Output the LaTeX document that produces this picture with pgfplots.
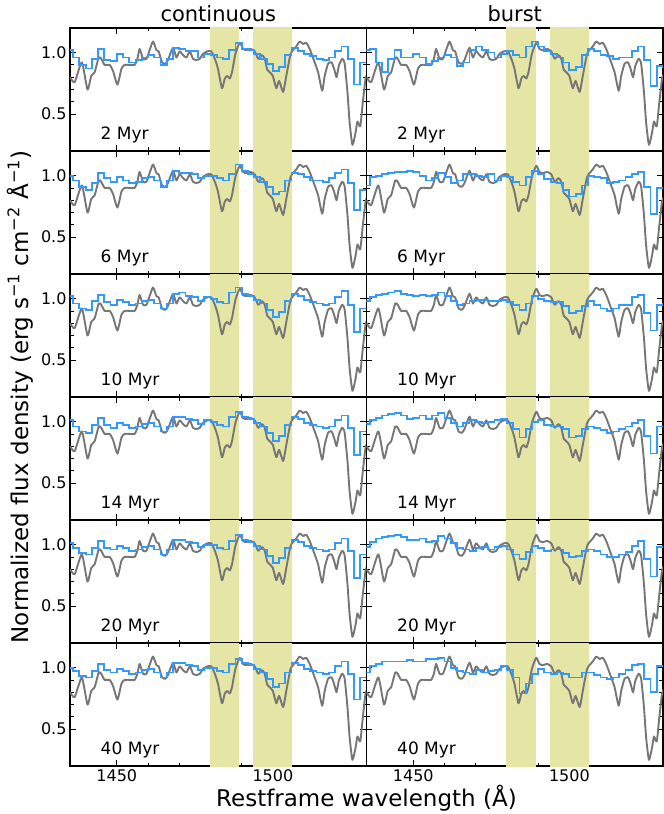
\documentclass[border=0pt]{standalone}
\usepackage{fontspec}
\setmainfont{DejaVu Sans}
\usepackage{pgfplots}
\usepackage{pgfplotstable}
\pgfplotsset{compat=1.18}
\usepgfplotslibrary{groupplots}

\definecolor{bandcol}{RGB}{229,229,165}
\definecolor{graycol}{RGB}{118,118,118}
\definecolor{bluecol}{RGB}{51,153,255}

\newcommand\tickfont{\fontsize{16}{16}\selectfont}
\newcommand\labfont{\fontsize{17}{17}\selectfont}
\newcommand\bigfont{\fontsize{21}{21}\selectfont}
\newcommand\axfont{\fontsize{23}{23}\selectfont}

\pgfplotstableread{
x y
1435.0 0.80
1436.5 0.76
1438.8 0.92
1440.6 0.70
1441.8 0.81
1442.9 0.84
1444.2 0.96
1445.0 0.95
1446.1 0.90
1447.7 0.90
1448.8 0.85
1450.2 0.74
1451.5 0.87
1452.5 0.90
1454.1 0.90
1455.7 0.90
1456.6 0.95
1457.3 1.03
1458.4 0.95
1459.5 0.95
1460.5 1.02
1461.6 1.09
1462.7 1.02
1463.4 1.01
1464.5 0.92
1465.6 0.91
1466.4 0.94
1468.0 1.04
1469.1 0.96
1470.1 1.01
1471.2 0.98
1472.3 0.96
1473.4 1.01
1474.4 0.95
1475.5 0.94
1476.6 0.95
1477.6 0.99
1479.0 1.01
1480.3 1.01
1481.4 0.95
1482.4 0.87
1483.7 0.71
1484.6 0.79
1485.4 0.81
1486.2 0.79
1486.9 0.84
1488.0 0.99
1489.4 1.08
1490.4 1.03
1491.5 1.02
1492.9 1.03
1494.2 1.01
1495.3 0.95
1496.5 0.98
1497.4 0.95
1498.2 0.86
1499.0 0.84
1500.0 0.81
1501.1 0.71
1502.0 0.77
1503.3 0.68
1504.3 0.81
1505.7 0.99
1507.5 1.05
1508.6 1.09
1509.7 1.07
1510.7 1.08
1511.8 1.03
1513.4 0.92
1514.5 0.84
1515.8 0.69
1516.6 0.81
1517.7 0.91
1518.8 0.92
1519.6 0.87
1520.4 0.80
1521.1 0.89
1522.2 0.95
1523.0 0.91
1523.9 0.68
1524.6 0.43
1525.5 0.25
1526.5 0.35
1527.1 0.44
1528.0 0.40
1528.8 0.59
1529.7 0.79
1530.2 0.82
}\graytab

% bin left edges (bins 2 A wide)
\pgfplotstableread{
x    c2   c6   c10  c14  c20  c40  b2   b6   b10  b14  b20  b40
1434 1.02 1.00 1.02 1.01 1.01 1.00 1.02 0.92 0.98 0.98 0.98 0.96
1436 0.96 0.96 0.96 0.96 0.97 0.97 1.03 0.99 1.01 1.01 1.02 1.01
1438 0.90 0.91 0.92 0.92 0.93 0.93 0.92 1.00 1.03 1.03 1.05 1.03
1440 0.87 0.88 0.91 0.91 0.92 0.92 0.84 1.01 1.04 1.05 1.06 1.05
1442 0.95 0.94 0.98 0.97 0.97 0.97 0.95 1.02 1.05 1.06 1.07 1.05
1444 1.03 1.02 1.03 1.03 1.03 1.03 1.02 1.03 1.06 1.07 1.08 1.05
1446 0.94 0.98 0.97 0.97 0.97 0.98 0.96 1.03 1.04 1.05 1.06 1.05
1448 0.93 0.95 0.95 0.95 0.96 0.96 0.96 1.04 1.03 1.02 1.04 1.06
1450 0.99 0.99 0.99 0.99 0.99 0.99 0.99 1.03 1.02 1.03 1.04 1.05
1452 0.96 0.96 0.97 0.97 0.97 0.97 0.96 1.00 1.03 1.05 1.05 1.05
1454 0.92 0.94 0.95 0.95 0.95 0.95 0.91 0.96 1.02 1.02 1.02 1.07
1456 0.94 0.95 0.96 0.96 0.96 0.96 0.93 0.98 1.03 1.05 1.03 1.07
1458 0.96 0.98 0.98 0.98 0.98 0.98 0.96 1.02 1.05 1.07 1.07 1.08
1460 0.98 0.99 0.99 0.99 0.99 0.99 0.98 0.99 1.02 1.03 1.05 1.05
1462 0.96 0.96 0.96 0.96 0.96 0.96 0.96 0.94 0.98 0.99 1.01 1.00
1464 0.90 0.91 0.92 0.92 0.92 0.92 0.89 0.96 0.95 0.96 0.97 0.97
1466 0.95 0.96 0.96 0.96 0.96 0.96 0.92 1.01 0.96 0.99 0.96 0.96
1468 1.04 1.04 1.04 1.04 1.04 1.04 1.02 1.01 0.98 1.01 0.95 0.95
1470 1.03 1.02 1.05 1.04 1.04 1.04 1.05 1.00 0.99 1.00 0.97 0.98
1472 1.01 1.02 1.02 1.02 1.02 1.02 1.02 0.99 0.99 0.99 0.98 0.96
1474 1.01 1.01 1.01 1.01 1.01 1.01 1.00 1.01 0.98 1.00 0.96 0.97
1476 0.96 0.98 0.98 0.98 0.98 0.98 0.96 0.96 0.98 1.01 0.98 0.98
1478 0.99 1.00 1.01 1.01 1.00 1.00 0.99 1.00 0.99 1.02 0.99 1.01
1480 0.98 1.00 1.00 1.00 1.00 1.00 1.01 0.99 0.97 0.99 0.96 0.98
1482 0.96 0.98 0.97 0.97 0.97 0.97 0.98 0.95 0.95 0.94 0.92 0.92
1484 0.95 0.96 0.96 0.96 0.96 0.96 0.96 0.92 0.91 0.87 0.88 0.79
1486 1.02 1.01 1.05 1.04 1.03 1.03 1.05 0.99 0.96 0.94 0.94 0.87
1488 1.08 1.09 1.09 1.08 1.08 1.07 1.09 1.04 1.02 1.00 0.99 0.95
1490 1.03 1.04 1.04 1.04 1.04 1.04 1.05 1.01 1.00 1.01 0.97 0.99
1492 1.02 1.01 1.02 1.02 1.02 1.02 1.01 0.97 0.98 0.97 0.95 0.96
1494 0.99 0.99 0.99 0.99 0.99 0.99 0.99 0.95 0.97 0.96 0.96 0.95
1496 0.95 0.95 0.96 0.96 0.96 0.96 0.96 0.94 0.97 0.96 0.96 0.96
1498 0.91 0.91 0.91 0.91 0.91 0.91 0.92 0.88 0.94 0.94 0.93 0.95
1500 0.85 0.85 0.85 0.84 0.85 0.84 0.86 0.83 0.88 0.87 0.90 0.92
1502 0.88 0.87 0.89 0.88 0.89 0.87 0.88 0.85 0.90 0.88 0.91 0.92
1504 0.98 0.96 0.98 0.97 0.97 0.96 0.98 0.92 0.94 0.94 0.95 0.96
1506 1.04 1.02 1.04 1.04 1.04 1.04 1.03 1.00 0.98 0.96 0.96 0.96
1508 1.01 1.01 1.02 1.02 1.02 1.02 1.01 0.99 0.95 0.95 0.95 0.94
1510 0.99 0.99 0.99 0.99 0.99 0.99 0.98 0.98 0.92 0.93 0.92 0.92
1512 0.97 0.96 0.97 0.97 0.97 0.97 0.97 0.94 0.90 0.91 0.90 0.91
1514 0.95 0.96 0.96 0.96 0.96 0.96 0.95 0.95 0.92 0.92 0.90 0.92
1516 0.94 0.95 0.95 0.95 0.95 0.95 0.96 0.96 0.95 0.94 0.92 0.95
1518 0.96 0.98 0.96 0.96 0.96 0.96 0.96 0.99 0.95 0.96 0.94 0.98
1520 1.01 1.02 1.01 1.01 1.01 1.01 1.01 1.01 1.01 0.99 0.99 1.02
1522 1.05 1.05 1.06 1.05 1.05 1.05 1.05 1.03 1.03 1.01 1.03 1.03
1524 0.95 0.94 0.95 0.95 0.95 0.95 0.94 0.91 0.88 0.88 0.88 0.91
1526 0.74 0.72 0.73 0.73 0.73 0.74 0.73 0.69 0.74 0.74 0.74 0.80
1528 0.92 0.88 0.92 0.92 0.92 0.92 0.89 0.90 0.95 0.96 0.98 1.01
1530 0.90 0.90 0.92 0.92 0.92 0.92 0.88 0.90 0.96 0.96 0.98 1.01
1532 0.90 0.90 0.92 0.92 0.92 0.92 0.88 0.90 0.96 0.96 0.98 1.01
}\bluetab

\newcommand\panel[2]{%
  \addplot[fill=bandcol, draw=none, forget plot] coordinates {(1479.8,0) (1479.8,1.3) (1489.2,1.3) (1489.2,0)} -- cycle;
  \addplot[fill=bandcol, draw=none, forget plot] coordinates {(1493.7,0) (1493.7,1.3) (1506.2,1.3) (1506.2,0)} -- cycle;
  \addplot[draw=graycol, line width=1.9pt, line join=round, smooth, tension=0.35, mark=none] table[x=x,y=y]{\graytab};
  \addplot[draw=bluecol, line width=1.8pt, const plot, mark=none] table[x=x,y=#1]{\bluetab};
  \node[anchor=base west, font=\labfont, inner sep=0pt] at (rel axis cs:0.103,0.094) {#2};
}

\begin{document}
\begin{tikzpicture}
\begin{groupplot}[
  group style={group size=2 by 6, horizontal sep=0pt, vertical sep=0pt,
    xticklabels at=edge bottom, yticklabels at=edge left},
  scale only axis, width=296.5pt, height=123pt,
  xmin=1435, xmax=1530, ymin=0.2, ymax=1.2,
  xtick={1450,1500}, ytick={0.5,1.0},
  minor x tick num=4, minor y tick num=4,
  tick align=inside, major tick length=6pt, minor tick length=3.5pt,
  major tick style={black, line width=0.9pt},
  minor tick style={black, line width=0.8pt},
  axis line style={line width=1.3pt},
  /pgf/number format/assume math mode=true,
  /pgf/number format/set thousands separator={},
  yticklabel style={/pgf/number format/.cd, fixed, fixed zerofill, precision=1},
  every tick label/.append style={font=\tickfont},
  title style={font=\bigfont, yshift=-3pt},
]
\nextgroupplot[title={continuous}]
\panel{c2}{2 Myr}
\nextgroupplot[title={burst}]
\panel{b2}{2 Myr}
\nextgroupplot
\panel{c6}{6 Myr}
\nextgroupplot
\panel{b6}{6 Myr}
\nextgroupplot
\panel{c10}{10 Myr}
\nextgroupplot
\panel{b10}{10 Myr}
\nextgroupplot
\panel{c14}{14 Myr}
\nextgroupplot
\panel{b14}{14 Myr}
\nextgroupplot
\panel{c20}{20 Myr}
\nextgroupplot
\panel{b20}{20 Myr}
\nextgroupplot
\panel{c40}{40 Myr}
\nextgroupplot
\panel{b40}{40 Myr}
\end{groupplot}
\node[anchor=base, font=\axfont] at ([yshift=-40pt]group c1r6.south east) {Restframe wavelength (Å)};
\node[rotate=90, anchor=center, font=\axfont] at ([xshift=-50pt, yshift=-369pt]group c1r1.north west) {Normalized flux density (erg s\textsuperscript{−1} cm\textsuperscript{−2} Å\textsuperscript{−1})};
\pgfresetboundingbox
\path[use as bounding box] ([xshift=-70pt, yshift=28pt]group c1r1.north west) rectangle ([xshift=594pt, yshift=-786pt]group c1r1.north west);
\end{tikzpicture}
\end{document}
